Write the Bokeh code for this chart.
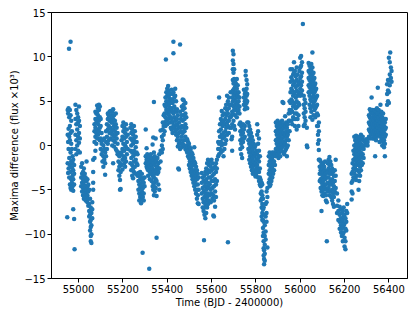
from bokeh.plotting import figure
from bokeh.models import Range1d, FixedTicker, ColumnDataSource
from bokeh.embed import file_html
from bokeh.resources import INLINE

# ---- axis ticks ----
x_ticks = [55000, 55200, 55400, 55600, 55800, 56000, 56200, 56400]
x_tick_labels = ["55000", "55200", "55400", "55600", "55800", "56000", "56200", "56400"]
y_ticks = [-15, -10, -5, 0, 5, 10, 15]
y_tick_labels = ["\u221215", "\u221210", "\u22125", "0", "5", "10", "15"]

# ---- data: (time BJD-2400000, [maxima differences x10^3 at that time]) ----
seg_a = [
    (54949, [-8.1]),
    (54951, [4.0, 1.2, -2.0]),
    (54953, [3.6, 0.4, -3.1]),
    (54955, [4.2, 1.9, -0.4, -2.6]),
    (54957, [10.9]),
    (54958, [3.2, 1.0, -1.4, -3.6]),
    (54961, [4.0, 2.2, 0.6, -2.2, -4.4]),
    (54964, [11.7, 3.4, 1.4, -0.8, -3.0, -4.8]),
    (54967, [2.8, 0.2, -1.8, -3.8, -5.0]),
    (54970, [1.6, -0.4, -2.5, -4.2, -4.8]),
    (54973, [-1.2, -2.0, -3.4, -4.6]),
    (54976, [-7.2, -1.6, -2.8, -3.8, -5.1]),
    (54980, [-8.3, -2.2, -3.2, -4.4]),
    (54982, [-11.7]),
    (54986, [4.6, 3.0, 1.2, -0.4]),
    (54990, [4.0, 2.4, 0.6, -1.0]),
    (54994, [3.6, 1.8, 0.0]),
    (54998, [3.2, 2.6, 1.0, -0.6]),
    (55002, [4.4, 2.8, 1.4, 0.3]),
    (55006, [2.2, 0.8, -0.8]),
    (55012, [-2.4, -3.6, -4.6]),
    (55016, [-2.0, -3.2, -4.2, -5.2]),
    (55020, [-3.0, -3.8, -4.8, -5.6]),
    (55024, [-2.6, -3.4, -4.4, -5.2, -6.0]),
    (55028, [-3.2, -4.0, -5.0, -5.8]),
    (55032, [-3.6, -4.6, -5.4, -6.2]),
    (55036, [-1.8, -4.0, -5.0, -5.8]),
    (55040, [-3.8, -4.6, -5.6, -6.4]),
    (55044, [-4.4, -5.2, -6.0, -6.8]),
    (55048, [-5.0, -6.6, -7.4, -8.0]),
    (55052, [-6.0, -7.8, -8.6, -9.6]),
    (55055, [-7.0, -8.4, -9.2, -10.2, -10.8]),
    (55058, [-7.6, -9.0, -10.0, -11.0]),
    (55062, [-6.4, -7.2, -8.2]),
    (55066, [-1.6, -3.0, -4.2, -5.0]),
    (55072, [-1.4, 0.4, 1.6, 2.4]),
    (55076, [-0.6, 1.0, 2.0, 3.0, 3.8]),
    (55080, [0.2, 1.4, 2.6, 3.6]),
    (55084, [0.8, 1.8, 3.0, 3.8, 4.5]),
    (55088, [1.2, 2.4, 3.4, 4.2]),
    (55092, [1.6, 2.8, 4.0, 4.6]),
    (55096, [0.6, 2.0, 3.2, 4.4]),
    (55100, [-0.4, 0.8, 2.2, 3.0]),
    (55104, [-1.0, 0.2, 1.4]),
    (55108, [-1.8, -0.6, 0.6]),
    (55112, [-2.4, -1.2, 0.0]),
    (55116, [-1.6, -0.4, 0.8]),
    (55120, [-3.3, -2.0, -0.8]),
    (55124, [-1.2, 0.4, 1.6]),
    (55128, [-0.4, 1.0, 2.4]),
    (55132, [0.2, 1.8, 3.0, 3.6]),
    (55136, [0.6, 2.2, 3.4]),
    (55140, [1.4, 2.8, 3.8]),
    (55144, [0.8, 2.0, 3.0, 3.9]),
    (55148, [1.6, 2.6, 3.4]),
]

seg_b = [
    (55152, [3.8, 2.6, 1.2, 0.0]),
    (55156, [4.1, 3.0, 1.8, 0.6, -2.0]),
    (55160, [3.4, 2.2, 1.0, -0.1]),
    (55164, [2.8, 1.6, 0.4]),
    (55168, [3.6, 2.4, 1.2, -0.4]),
    (55172, [2.0, 0.8, -0.6]),
    (55176, [1.4, 0.2, -1.0]),
    (55180, [-0.8, -1.8, -2.8]),
    (55184, [-1.2, -2.4, -3.4]),
    (55187, [-5.0, -3.9, -2.0]),
    (55190, [-4.9, -1.0, -3.0]),
    (55194, [0.6, -0.8, -2.2]),
    (55198, [2.2, 1.0, -0.4, -1.6, -2.7]),
    (55202, [2.6, 1.6, 0.2, -1.2]),
    (55206, [2.0, 0.8, -0.6, -2.0]),
    (55210, [1.4, 0.0, -1.4, -2.4]),
    (55214, [2.4, 1.0, -0.2, -1.8]),
    (55218, [1.8, 0.4, -1.0]),
    (55222, [1.2, -0.4]),
    (55234, [2.0, 0.8, -0.6, -2.0]),
    (55238, [2.4, 1.4, 0.0, -1.4, -2.8]),
    (55242, [1.8, 0.6, -0.8, -2.2, -3.4]),
    (55246, [1.2, 0.2, -1.2, -2.6, -3.7]),
    (55250, [2.2, 0.8, -0.6, -1.8, -3.0]),
    (55254, [1.6, 0.4, -1.0, -2.4]),
    (55258, [1.0, -0.2, -1.6, -3.2]),
    (55262, [0.4, -0.8, -2.0]),
    (55266, [-1.0, -2.2, -3.4]),
    (55270, [-3.1, -4.0, -5.0]),
    (55274, [-3.4, -4.4, -5.4, -6.2]),
    (55278, [-3.0, -3.8, -4.8, -5.8]),
    (55282, [-3.6, -4.6, -5.6, -6.5]),
    (55286, [-3.2, -4.2, -5.2, -6.1]),
    (55289, [-12.1]),
    (55290, [-3.8, -4.8, -5.8]),
    (55294, [-4.2, -5.4, -6.2]),
    (55298, [-3.6, -4.6]),
    (55303, [1.8, -1.2, -2.0]),
    (55307, [-0.3, -1.6, -2.4]),
    (55310, [-1.0, -1.8, -2.6]),
    (55314, [-1.4, -2.2, -2.8, -3.4]),
    (55318, [-1.2, -2.0, -2.6]),
    (55319, [-13.9]),
    (55322, [-1.6, -2.4, -3.0, -3.8]),
    (55326, [-1.0, -1.8, -2.6, -3.2]),
    (55330, [-1.4, -2.2, -2.8, -4.0]),
    (55334, [0.1, -1.8, -2.6, -3.4, -4.6]),
    (55337, [0.9, -2.0, -3.0, -4.2, -5.0]),
    (55340, [4.9, -0.8, -1.6, -3.6, -4.6, -5.6]),
    (55344, [-1.2, -2.2, -3.2, -4.2, -5.2]),
    (55348, [0.8, -1.6, -2.8, -3.8, -4.8]),
    (55352, [-10.4, -1.8, -2.6, -4.0, -5.7]),
    (55356, [-1.4, -2.4, -3.2]),
    (55360, [-2.0, -3.0, -4.4]),
    (55364, [-1.0, -2.6, -5.0]),
    (55370, [1.7, -0.6, -1.8]),
    (55376, [1.0, 0.0, -0.8]),
    (55380, [2.6, 1.8, 0.6, -0.4]),
    (55384, [3.4, 2.2, 1.2]),
    (55388, [4.6, 3.6, 2.6, 1.6]),
    (55392, [5.4, 4.4, 3.2, 2.2]),
    (55394, [9.7]),
    (55396, [6.0, 5.0, 4.0, 2.8]),
    (55400, [6.4, 5.6, 4.6, 3.6, 2.4]),
    (55404, [6.7, 5.8, 5.0, 4.0, 3.0]),
    (55408, [6.2, 5.4, 4.4, 3.4]),
    (55412, [5.8, 4.8, 3.8, 2.6]),
    (55416, [5.2, 4.2, 3.2, 2.0]),
]

seg_c = [
    (55420, [6.3, 5.2, 4.2, 3.0, 1.8]),
    (55424, [5.8, 4.8, 3.8, 2.6, 1.4]),
    (55428, [11.7, 10.4, 6.0, 5.0, 3.6, 2.2]),
    (55432, [5.4, 4.4, 3.2, 2.0]),
    (55436, [6.4, 5.6, 4.0, 2.8, 1.6]),
    (55440, [5.0, 3.8, 2.4, 1.2]),
    (55444, [4.1, 3.0, 1.8, 0.6]),
    (55448, [3.4, 2.2, 1.0, -0.1]),
    (55450, [-2.6]),
    (55453, [-2.7, 2.6, 1.4, 0.2]),
    (55458, [11.4, 3.8, 2.0, 0.6, -0.4]),
    (55462, [3.0, 1.6, 0.2]),
    (55466, [4.4, 3.4, 2.2, 1.0, -0.2]),
    (55470, [5.2, 4.0, 2.8, 1.4, 0.2]),
    (55474, [5.1, 4.6, 3.4, 2.0, 0.6]),
    (55478, [4.2, 3.0, 1.6, 0.0]),
    (55482, [4.8, 3.6, 2.4, 1.0, -0.4]),
    (55486, [3.2, 2.0, 0.6, -0.5]),
    (55490, [0.7, 0.0, -0.8]),
    (55494, [0.4, -0.4, -1.2]),
    (55498, [0.2, -0.6, -1.4, -2.2]),
    (55502, [-0.2, -1.0, -1.8, -2.6]),
    (55506, [-0.4, -1.2, -2.0, -3.0]),
    (55510, [-0.8, -1.6, -2.4, -3.4]),
    (55514, [-1.0, -2.0, -2.8, -3.8]),
    (55518, [-1.4, -2.2, -3.2, -4.2]),
    (55522, [-0.2, -1.8, -2.8, -3.6, -4.6]),
    (55526, [-2.0, -3.0, -4.0, -5.0]),
    (55530, [-2.4, -3.4, -4.4, -5.4]),
    (55534, [-2.8, -3.8, -5.0, -6.0]),
    (55538, [-3.2, -4.4, -5.6, -6.5]),
    (55542, [-3.6, -5.0, -6.6]),
    (55556, [-3.1, -4.2, -5.4]),
    (55560, [-3.6, -4.8, -6.0, -7.0]),
    (55564, [-4.0, -5.2, -6.4, -7.4]),
    (55566, [-10.7]),
    (55568, [-3.4, -4.6, -5.8, -7.0, -7.8]),
    (55572, [-3.0, -4.2, -5.4, -6.6, -8.2]),
    (55576, [-2.6, -3.8, -5.0, -6.2, -7.6]),
    (55580, [-2.0, -3.2, -4.6, -5.8, -7.0]),
    (55584, [-1.6, -2.8, -4.2, -5.4, -6.6]),
    (55588, [-2.2, -3.6, -4.8, -6.2]),
    (55592, [-1.8, -3.0, -4.4, -5.6]),
    (55596, [-2.4, -3.6, -5.0, -6.4]),
    (55600, [-1.6, -2.8, -4.0, -5.4]),
    (55604, [-2.0, -3.4, -4.8, -6.0]),
    (55608, [-7.9, -2.6, -4.0, -5.6]),
    (55611, [-8.0, -3.2, -4.6, -6.2]),
    (55616, [-2.4, -3.8, -5.2, -6.9]),
    (55620, [-2.0, -3.0, -4.4, -5.8]),
    (55624, [-1.6, -2.6, -4.0]),
    (55630, [0.4, -0.4, -1.2]),
    (55634, [5.4, 1.6, 0.2, -1.0]),
    (55638, [2.4, 1.0, -0.4]),
    (55642, [3.0, 1.8, 0.4, -0.8]),
    (55646, [3.9, 2.6, 1.2, 0.0]),
    (55650, [3.4, 2.2, 0.8, -0.6]),
    (55654, [2.8, 1.4, 0.2, -1.2]),
    (55658, [3.6, 2.4, 1.0, -0.4]),
    (55662, [4.2, 3.0, 1.6, 0.2]),
    (55666, [4.6, 3.4, 2.0, 0.6]),
    (55670, [5.6, 4.0, 2.6, 1.2]),
    (55674, [-10.9, 5.0, 3.6, 2.2]),
    (55678, [5.4, 4.2, 2.8, 1.4]),
    (55682, [4.6, 3.2, 2.0]),
    (55686, [6.0, 4.6, 3.2]),
]

seg_d = [
    (55690, [0.7, 2.0, 3.4, 4.6]),
    (55693, [5.4, 3.8, 2.4, 1.0, -0.6]),
    (55696, [10.7, 9.6, 8.6, 7.4, 6.2, 5.0, 3.6]),
    (55699, [10.3, 9.2, 8.2, 7.0, 5.8, 4.4, 2.8]),
    (55702, [8.6, 7.5, 6.4, 5.2, 4.0, 2.2]),
    (55706, [7.3, 6.6, 5.6, 4.6, 3.4, 1.8]),
    (55710, [7.0, 6.0, 5.0, 4.0]),
    (55714, [7.5, 6.4, 5.4, 4.4, 3.2]),
    (55718, [6.8, 5.6, 4.6, 3.7]),
    (55722, [6.0, 5.0, 4.0]),
    (55726, [5.4, 4.4, 3.6, 2.4]),
    (55730, [2.6, 1.6, 0.6, -0.4]),
    (55734, [2.2, 1.2, 0.2, -1.0]),
    (55738, [1.8, 0.8, -0.2, -1.4]),
    (55742, [2.4, 1.4, 0.4]),
    (55746, [6.3, 5.4, 4.6, 1.8, 0.8]),
    (55750, [5.8, 5.0, 4.1, 2.2, 1.0]),
    (55754, [8.4, 7.9, 6.0, 5.2, 4.4]),
    (55758, [7.4, 6.4, 5.6, 4.8]),
    (55761, [6.9, 5.8, 5.0, 4.2, 2.6]),
    (55766, [2.6, 1.6, 0.6, -0.4]),
    (55770, [2.2, 1.2, 0.2, -0.8, -1.6]),
    (55774, [1.8, 0.8, -0.2, -1.2, -2.0]),
    (55778, [1.4, 0.4, -0.6, -1.6, -2.4]),
    (55782, [1.0, 0.0, -1.0, -2.0, -2.8]),
    (55786, [0.6, -0.4, -1.4, -2.4, -3.2]),
    (55790, [0.2, -0.8, -1.8, -2.8]),
    (55794, [-0.2, -1.2, -2.2, -3.2]),
    (55798, [0.0, -1.0, -2.0, -3.0, -3.5]),
    (55802, [-0.6, -1.6, -2.6, -3.4]),
    (55806, [2.4, 1.2, -1.0, -2.2, -3.0]),
    (55810, [1.6, 0.2, -1.4, -2.6, -3.6]),
    (55814, [0.8, -0.6, -1.8, -3.0, -4.0]),
    (55818, [-1.2, -2.6, -3.6, -4.4]),
    (55822, [-3.9, -4.6, -5.4, -6.2]),
    (55826, [-4.2, -5.2, -6.0, -7.0, -8.0]),
    (55829, [-4.4, -5.6, -6.6, -7.6, -8.4]),
    (55832, [-6.0, -7.2, -8.4, -9.3, -10.2]),
    (55835, [-7.0, -8.6, -9.8, -10.8, -11.6, -12.4]),
    (55837, [-13.4, -12.8, -11.8]),
    (55840, [-7.8, -9.0, -10.2, -11.2, -12.2, -13.0]),
    (55844, [-6.6, -8.0, -9.7, -10.6]),
    (55848, [-5.2, -6.4, -7.6, -8.6]),
    (55852, [-11.5, -4.8, -5.8]),
    (55858, [-1.2, -2.2, -3.2, -4.2]),
    (55862, [-0.8, -1.8, -2.8, -3.8, -4.6]),
    (55866, [-1.4, -2.4, -3.4, -4.4]),
    (55870, [-1.0, -2.0, -3.0, -4.0]),
    (55874, [-0.8, -1.6, -2.6, -3.6]),
    (55878, [-1.2, -2.2, -3.2]),
    (55882, [-0.8, -1.8, -2.8]),
    (55886, [-1.0, -2.2]),
    (55890, [2.6, 1.6, 0.6, -0.4, -1.2]),
    (55894, [2.2, 1.2, 0.2, -0.8]),
    (55898, [2.8, 1.8, 0.8, -0.2, -1.0]),
    (55902, [2.4, 1.4, 0.4, -0.6, -1.4]),
    (55906, [2.0, 1.0, 0.0, -0.8]),
    (55910, [2.6, 1.6, 0.6, -0.4, -1.2]),
    (55914, [2.2, 1.2, 0.2, -0.6]),
    (55918, [2.8, 1.8, 0.8, -0.2]),
    (55920, [4.9]),
    (55924, [4.8, 2.4, 1.4, 0.4, -0.8]),
    (55928, [2.0, 1.0, 0.0, -1.0]),
    (55932, [3.3, 2.2, 1.2, 0.2, -0.6]),
    (55936, [2.6, 1.6, 0.6, -0.4]),
    (55940, [2.0, 1.0, -0.2, -1.2]),
    (55944, [2.4, 1.2, 0.0]),
    (55948, [3.6, 2.8, 1.6, 0.6]),
    (55952, [5.0, 4.0, 2.8, 1.6]),
    (55956, [8.6, 7.2, 6.0, 4.8, 3.7]),
]

seg_e = [
    (55960, [7.7, 6.4, 5.2, 4.0, 2.8]),
    (55964, [8.6, 7.4, 6.2, 5.0, 3.8, 2.4]),
    (55968, [8.0, 6.8, 5.6, 4.4, 3.2]),
    (55972, [9.4, 8.2, 7.0, 5.8, 4.6, 3.0]),
    (55976, [8.4, 7.2, 6.0, 4.8, 3.6, 2.2]),
    (55980, [7.8, 6.6, 5.4, 4.2, 3.0]),
    (55984, [8.8, 7.4, 6.2, 5.0, 3.6, 1.8]),
    (55988, [8.0, 6.8, 5.6, 4.4, 3.0]),
    (55992, [7.2, 6.0, 4.8, 3.4, 2.2]),
    (55996, [8.4, 7.0, 5.8, 4.6]),
    (56000, [9.9, 8.8, 7.6, 6.4, 5.6]),
    (56004, [10.1, 9.0, 7.8, 6.8, 5.8]),
    (56008, [9.4, 8.2, 7.2, 6.2]),
    (56012, [13.7]),
    (56016, [5.6, 4.6, 3.6, 2.2]),
    (56020, [5.2, 4.2, 3.2, 2.4]),
    (56024, [4.8, 3.8, 2.8]),
    (56030, [2.0, 0.0]),
    (56032, [-0.2]),
    (56038, [9.3, 8.4, 7.6, 6.8, 6.0]),
    (56042, [9.0, 8.2, 7.4, 6.6, 5.6, 4.6]),
    (56046, [8.6, 7.8, 7.0, 6.2, 5.2, 4.2, 3.2]),
    (56050, [9.2, 8.4, 7.6, 6.8, 6.0, 5.0, 3.8]),
    (56055, [10.5, 8.8, 8.0, 7.2, 6.4, 5.4, 4.4, 2.9]),
    (56060, [8.2, 7.4, 6.6, 5.6, 4.6, 3.4]),
    (56064, [7.6, 6.8, 6.0, 5.0, 4.0]),
    (56068, [7.0, 6.2, 5.2, 4.2, 3.2]),
    (56072, [6.4, 5.4, 4.4, 3.4]),
    (56076, [5.6, 4.6, 3.6, 2.2]),
    (56080, [3.4, 2.2, 1.2, 0.2]),
    (56084, [2.6, 1.6, 0.6, -0.5, -1.6]),
    (56088, [-1.6, -2.4, -3.2, -4.0]),
    (56092, [-1.8, -2.8, -3.8, -4.8]),
    (56096, [-2.2, -3.2, -4.2, -5.2, -7.4]),
    (56100, [-2.6, -3.6, -4.6, -5.6]),
    (56104, [-2.0, -3.0, -4.0, -5.0, -5.7]),
    (56108, [-2.4, -3.4, -4.4, -5.4]),
    (56112, [-1.8, -2.8, -3.8, -4.8]),
    (56116, [-3.2, -4.4, -5.6, -6.2]),
    (56120, [-10.8, -3.6, -5.0, -6.4]),
    (56124, [-2.0, -3.0, -4.2, -5.2]),
    (56128, [-1.6, -2.6, -3.6, -4.8]),
    (56132, [-1.3, -2.2, -3.2, -4.4, -5.6]),
    (56136, [-1.8, -2.8, -4.0, -5.2]),
    (56140, [-2.2, -3.2, -4.4, -5.8]),
    (56144, [-2.6, -3.8, -5.0, -6.2]),
    (56148, [-3.0, -4.2, -5.4, -6.6]),
    (56152, [-3.4, -4.6, -5.8, -6.9]),
    (56156, [-2.8, -4.0, -5.2]),
    (56160, [-1.6, -3.4, -4.8]),
    (56166, [-5.4, -6.8, -7.6]),
    (56172, [-6.2, -7.4, -8.4]),
    (56178, [-6.9, -7.8, -8.6, -9.4]),
    (56184, [-7.2, -8.2, -9.0, -9.8]),
    (56188, [-7.6, -8.6, -9.4, -10.2]),
    (56192, [-7.4, -8.4, -9.2, -10.0, -10.8]),
    (56196, [-7.0, -8.0, -9.0, -9.8]),
    (56200, [-7.8, -8.8, -10.4, -11.4]),
    (56204, [-8.2, -9.4, -10.8, -11.7]),
    (56208, [-7.4, -8.6, -9.6]),
    (56212, [-6.6, -7.6]),
]

seg_f = [
    (56232, [-3.2, -4.2, -5.2, -6.1]),
    (56236, [-2.0, -3.0, -4.0, -5.4]),
    (56240, [-0.6, -1.6, -2.6, -3.6]),
    (56244, [1.0, 0.0, -1.0, -2.2, -3.2]),
    (56248, [0.6, -0.4, -1.4, -2.6, -3.6]),
    (56252, [1.1, 0.2, -0.8, -1.8, -2.8, -3.9]),
    (56256, [0.8, -0.2, -1.2, -2.2, -3.4]),
    (56260, [0.4, -0.6, -1.6, -2.8]),
    (56263, [-5.0]),
    (56266, [1.0, 0.0, -1.0, -2.0, -3.0, -4.0]),
    (56270, [0.6, -0.4, -1.4, -2.4, -3.4]),
    (56274, [1.2, 0.2, -0.8, -1.8, -2.8]),
    (56278, [0.8, -0.2, -1.2, -2.2]),
    (56282, [1.0, 0.0, -1.0, -2.0]),
    (56286, [0.6, -0.4, -1.4]),
    (56292, [0.0, 0.4]),
    (56298, [0.7, 0.2]),
    (56304, [0.4, 0.0]),
    (56310, [3.4, 2.6, 1.8, 1.0]),
    (56314, [4.1, 3.2, 2.4, 1.6, 0.8]),
    (56318, [3.8, 3.0, 2.2, 1.4]),
    (56322, [5.4, 3.6, 2.8, 2.0, 1.2]),
    (56326, [4.0, 3.2, 2.4, 1.6, 0.8]),
    (56330, [3.6, 2.8, 2.0, 1.2]),
    (56334, [4.0, 3.2, 2.4, 1.6, 0.8]),
    (56338, [3.4, 2.6, 1.8, 1.0, -1.2]),
    (56342, [3.8, 3.0, 2.2, 1.4, 0.6]),
    (56346, [4.2, 3.4, 2.6, 1.8, 1.0]),
    (56350, [6.5, 3.6, 2.8, 2.0, 1.2]),
    (56354, [4.0, 3.2, 2.4, 1.6]),
    (56358, [3.6, 2.8, 2.0, 1.2, 0.4]),
    (56362, [4.6, 3.4, 2.6, 1.8, 1.0]),
    (56366, [3.8, 3.0, 2.2, 1.4, 0.6]),
    (56370, [3.2, 2.4, 1.6, 0.8, 0.0]),
    (56374, [3.6, 2.8, 2.0, 1.2, 0.4]),
    (56378, [3.0, 2.2, 1.4, 0.6, -0.2]),
    (56382, [2.6, 1.8, 1.0, 0.2, -1.2]),
    (56386, [3.0, 2.0, 1.2]),
    (56392, [6.9, 5.8, 4.6]),
    (56396, [7.4, 6.2, 5.0]),
    (56400, [9.9, 7.3, 6.0, 4.8]),
    (56404, [9.4, 8.0, 6.8]),
    (56406, [10.5]),
    (56409, [8.8, 7.6]),
    (56412, [8.4, 7.2]),
]

times, diffs = [], []
for seg in (seg_a, seg_b, seg_c, seg_d, seg_e, seg_f):
    for t, vals in seg:
        for v in vals:
            times.append(t)
            diffs.append(v)

src = ColumnDataSource(data=dict(t=times, v=diffs))

p = figure(width=411, height=310,
           x_range=Range1d(54878, 56484), y_range=Range1d(-15, 15),
           output_backend="svg", toolbar_location=None,
           min_border_left=51, min_border_right=4,
           min_border_top=12, min_border_bottom=30)

p.scatter(x="t", y="v", source=src, size=4.5,
          fill_color="#1f77b4", line_color=None)

p.grid.visible = False
p.outline_line_color = "black"
p.outline_line_width = 1
p.outline_line_alpha = 1
p.background_fill_color = "white"
p.border_fill_color = "white"

p.xaxis.ticker = FixedTicker(ticks=x_ticks)
p.xaxis.major_label_overrides = dict(zip(x_ticks, x_tick_labels))
p.yaxis.ticker = FixedTicker(ticks=y_ticks)
p.yaxis.major_label_overrides = dict(zip(y_ticks, y_tick_labels))

p.xaxis.axis_label = "Time (BJD - 2400000)"
p.yaxis.axis_label = "Maxima difference (flux \u00d710\u00b3)"

for ax in (p.xaxis[0], p.yaxis[0]):
    ax.major_tick_out = 4
    ax.major_tick_in = 0
    ax.minor_tick_out = 0
    ax.minor_tick_in = 0
    ax.axis_line_color = "black"
    ax.major_tick_line_color = "black"
    ax.major_label_text_font = "DejaVu Sans"
    ax.major_label_text_font_size = "10px"
    ax.major_label_text_color = "black"
    ax.major_label_standoff = 2
    ax.axis_label_text_font = "DejaVu Sans"
    ax.axis_label_text_font_size = "10px"
    ax.axis_label_text_font_style = "normal"
    ax.axis_label_text_color = "black"
    ax.axis_label_standoff = 1

open("out.html", "w").write(file_html(p, INLINE))
